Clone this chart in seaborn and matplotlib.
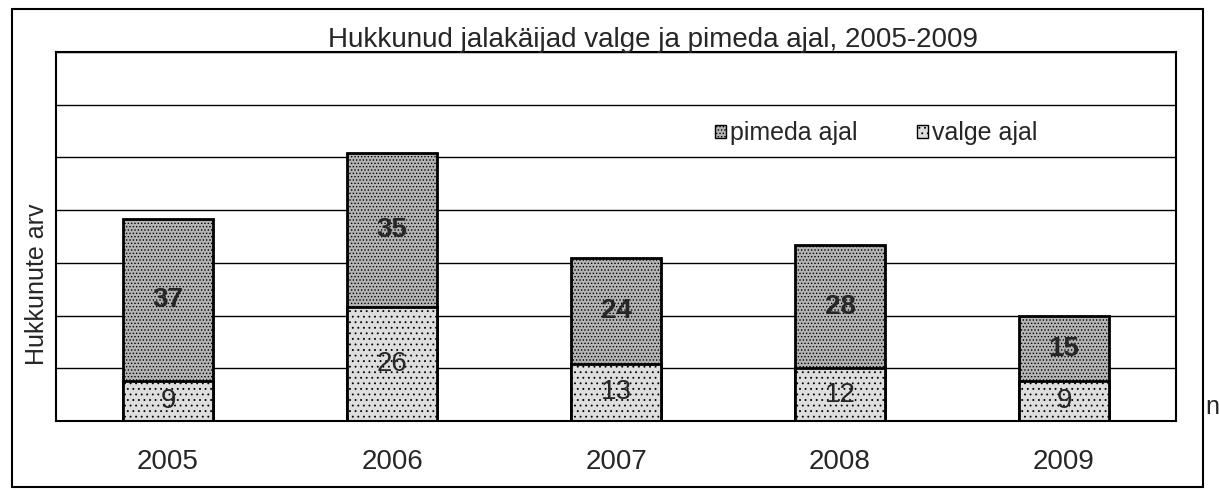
import pandas as pd
import matplotlib.pyplot as plt
import matplotlib.patches as mpatches
import seaborn as sb

# data
years = ["2005", "2006", "2007", "2008", "2009"]
valge = [9, 26, 13, 12, 9]        # killed in daylight
pimeda = [37, 35, 24, 28, 15]     # killed in the dark

data = pd.DataFrame({"aasta": years, "valge": valge, "pimeda": pimeda})
data["kokku"] = data["valge"] + data["pimeda"]

sb.set_style("white")
plt.rcParams["font.family"] = ["Liberation Sans", "DejaVu Sans"]
plt.rcParams["hatch.linewidth"] = 0.6

fig = plt.figure(figsize=(12.19, 4.91), dpi=100)
# axes box placed to match the scan (left 56px, right 1176px, top 52px, bottom 421px)
ax = fig.add_axes([56 / 1219, 1 - 421 / 491, 1120 / 1219, 369 / 491])

dark_col = "#b4b4b4"
light_col = "#dedede"

# stacked bars: draw totals first (dark part), then the daylight part over it
sb.barplot(data=data, x="aasta", y="kokku", color=dark_col, width=0.4,
           edgecolor="black", linewidth=2, saturation=1, ax=ax)
n_top = len(ax.patches)
sb.barplot(data=data, x="aasta", y="valge", color=light_col, width=0.4,
           edgecolor="black", linewidth=2, saturation=1, ax=ax)
for i, p in enumerate(ax.patches):
    p.set_hatch("....." if i < n_top else "...")

# value labels
for i, row in data.iterrows():
    ax.text(i, row["valge"] + row["pimeda"] / 2, str(row["pimeda"]),
            ha="center", va="center", fontsize=20, fontweight="bold")
    ax.text(i, row["valge"] / 2, str(row["valge"]),
            ha="center", va="center", fontsize=20)

ax.set_ylim(0, 84)
ax.set_yticks(range(0, 85, 12))
ax.set_yticklabels([])
ax.yaxis.grid(True, color="black", linewidth=1)
ax.set_axisbelow(True)
ax.set_xlim(-0.5, len(years) - 0.5)
ax.tick_params(axis="x", which="major", length=0, labelsize=20, pad=20)
ax.set_xticks([i + 0.5 for i in range(len(years))], minor=True)
ax.tick_params(axis="x", which="minor", length=8, width=1.2, direction="out", color="black")
ax.tick_params(axis="y", length=3, direction="out", color="black")
ax.set_xlabel("")
ax.set_ylabel("Hukkunute arv", fontsize=18)
ax.yaxis.set_label_coords(-0.006, 0.37)
for s in ax.spines.values():
    s.set_visible(True)
    s.set_color("black")
    s.set_linewidth(1.5)

# legend without a frame
handles = [mpatches.Patch(facecolor=dark_col, edgecolor="black", hatch=".....", label="pimeda ajal"),
           mpatches.Patch(facecolor=light_col, edgecolor="black", hatch="...", label="valge ajal")]
ax.legend(handles=handles, loc="center left", bbox_to_anchor=(0.588, 0.78), ncol=2,
          frameon=False, fontsize=18, handlelength=0.45, handleheight=0.45,
          handletextpad=0.15, columnspacing=2.4, borderaxespad=0, borderpad=0)

# title sits right on the top edge of the plot, which reads as an underline
fig.text(653 / 1219, 1 - 47 / 491, "Hukkunud jalakäijad valge ja pimeda ajal, 2005-2009",
         ha="center", va="baseline", fontsize=20)

# outer frame of the scanned chart
fig.add_artist(mpatches.Rectangle((12 / 1219, 1 - 487 / 491), 1191 / 1219, 478 / 491,
                                  fill=False, edgecolor="black", linewidth=1.5))
fig.text(1205 / 1219, 1 - 407 / 491, "n", fontsize=18, va="center", ha="left")

plt.savefig("out.png", dpi=100)
